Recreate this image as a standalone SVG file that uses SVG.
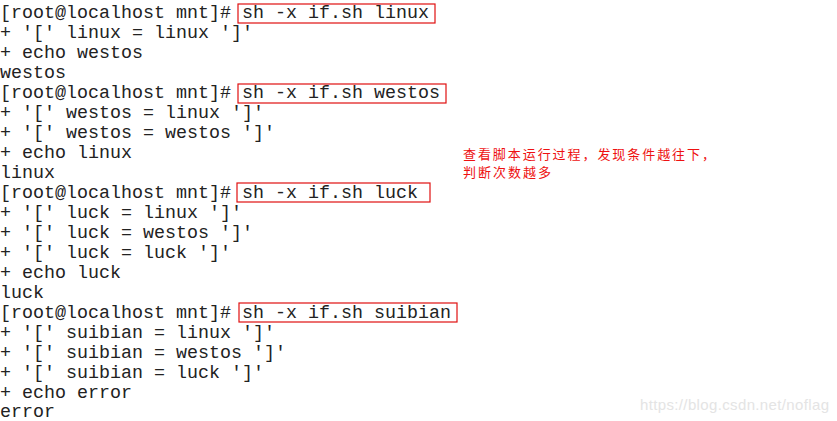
<svg xmlns="http://www.w3.org/2000/svg" width="837" height="421" viewBox="0 0 837 421">
<style>
.t{font-family:"Liberation Mono","DejaVu Sans Mono",monospace;font-size:18.33px;fill:#222222;white-space:pre}
.b{fill:none;stroke:#e01010;stroke-width:1.2}
.n{font-family:"Noto Sans CJK SC","Noto Sans CJK JP",sans-serif;font-size:13px;fill:#ee1111}
.w{font-family:"Liberation Sans",Arial,sans-serif;font-size:15px;fill:#e4e4e4}
</style>
<rect width="837" height="421" fill="#ffffff"/>
<g id="terminal">
<text class="t" x="0" y="18" xml:space="preserve">[root@localhost mnt]# sh -x if.sh linux</text>
<text class="t" x="0" y="38" xml:space="preserve">+ '[' linux = linux ']'</text>
<text class="t" x="0" y="58" xml:space="preserve">+ echo westos</text>
<text class="t" x="0" y="78" xml:space="preserve">westos</text>
<text class="t" x="0" y="98" xml:space="preserve">[root@localhost mnt]# sh -x if.sh westos</text>
<text class="t" x="0" y="118" xml:space="preserve">+ '[' westos = linux ']'</text>
<text class="t" x="0" y="138" xml:space="preserve">+ '[' westos = westos ']'</text>
<text class="t" x="0" y="158" xml:space="preserve">+ echo linux</text>
<text class="t" x="0" y="178" xml:space="preserve">linux</text>
<text class="t" x="0" y="198" xml:space="preserve">[root@localhost mnt]# sh -x if.sh luck</text>
<text class="t" x="0" y="218" xml:space="preserve">+ '[' luck = linux ']'</text>
<text class="t" x="0" y="238" xml:space="preserve">+ '[' luck = westos ']'</text>
<text class="t" x="0" y="258" xml:space="preserve">+ '[' luck = luck ']'</text>
<text class="t" x="0" y="278" xml:space="preserve">+ echo luck</text>
<text class="t" x="0" y="298" xml:space="preserve">luck</text>
<text class="t" x="0" y="318" xml:space="preserve">[root@localhost mnt]# sh -x if.sh suibian</text>
<text class="t" x="0" y="338" xml:space="preserve">+ '[' suibian = linux ']'</text>
<text class="t" x="0" y="358" xml:space="preserve">+ '[' suibian = westos ']'</text>
<text class="t" x="0" y="378" xml:space="preserve">+ '[' suibian = luck ']'</text>
<text class="t" x="0" y="398" xml:space="preserve">+ echo error</text>
<text class="t" x="0" y="417" xml:space="preserve">error</text>
</g>
<g id="highlights">
<rect class="b" x="238" y="4" width="197" height="19"/>
<rect class="b" x="238" y="84" width="208" height="19"/>
<rect class="b" x="237" y="183" width="193" height="19"/>
<rect class="b" x="239" y="303" width="218" height="19"/>
</g>
<g id="note">
<text class="n"><tspan x="463" y="159" textLength="252">查看脚本运行过程，发现条件越往下，</tspan><tspan x="463" y="177" textLength="88">判断次数越多</tspan></text>
</g>
<g id="watermark">
<text class="w" x="640" y="410" textLength="189">https://blog.csdn.net/noflag</text>
</g>
</svg>
